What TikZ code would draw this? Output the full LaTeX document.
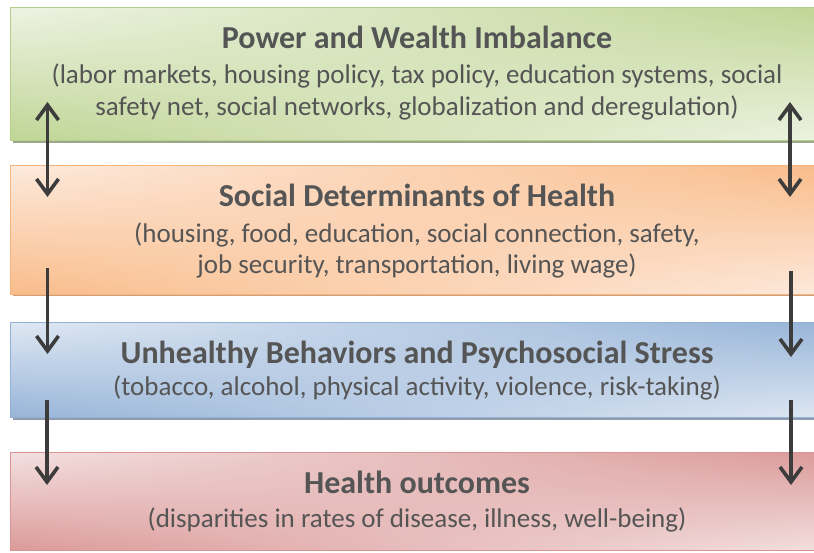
\documentclass[tikz,border=0pt]{standalone}
\usepackage{fontspec}
\setmainfont{Carlito}
\usetikzlibrary{arrows.meta,shadings}

% box palettes: light / dark / border / shadow
\definecolor{gLight}{HTML}{EDF3E2}
\definecolor{gDark}{HTML}{C0D596}
\definecolor{gLine}{HTML}{B5CE8A}
\definecolor{gShadow}{HTML}{9CA88A}
\definecolor{oLight}{HTML}{FDEADD}
\definecolor{oDark}{HTML}{F9BC8A}
\definecolor{oLine}{HTML}{F6B47E}
\definecolor{oShadow}{HTML}{CFA07C}
\definecolor{bLight}{HTML}{DFE8F3}
\definecolor{bDark}{HTML}{97B4D8}
\definecolor{bLine}{HTML}{93B0D5}
\definecolor{bShadow}{HTML}{8E9CAE}
\definecolor{rLight}{HTML}{F3E0E0}
\definecolor{rDark}{HTML}{DB9A99}
\definecolor{rLine}{HTML}{D99594}
\definecolor{rShadow}{HTML}{B09090}
\definecolor{txt}{HTML}{555555}
\definecolor{arr}{HTML}{3C3C3C}

\tikzset{
  band/.style={rectangle, inner sep=0pt, anchor=north west,
    minimum width=816pt, line width=1.2pt},
  greenband/.style={band, draw=gLine, upper left=gLight, lower right=gLight,
    upper right=gDark, lower left=gDark},
  orangeband/.style={band, draw=oLine, upper left=oLight, lower right=oLight,
    upper right=oDark, lower left=oDark},
  blueband/.style={band, draw=bLine, upper left=bLight, lower right=bLight,
    upper right=bDark, lower left=bDark},
  redband/.style={band, draw=rLine, upper left=rLight, lower right=rLight,
    upper right=rDark, lower left=rDark},
  title/.style={anchor=base, text=txt, inner sep=0pt,
    font=\fontsize{32}{36}\selectfont\bfseries},
  detail/.style={anchor=base, text=txt, inner sep=0pt,
    font=\fontsize{27}{32}\selectfont},
  barb/.tip={Straight Barb[length=15pt,width=22pt,line width=3.6pt]},
  flow/.style={draw=arr, line width=3.8pt, -barb},
  biflow/.style={draw=arr, line width=3.8pt, barb-barb},
}

\begin{document}
\begin{tikzpicture}[x=1pt, y=-1pt]
\useasboundingbox (0,0) rectangle (814,552);
\clip (0,0) rectangle (814,552);

% shadows under the bands
\fill[gShadow] (13,10) rectangle (829,143);
\fill[oShadow] (13,168) rectangle (829,296);
\fill[bShadow] (13,325) rectangle (829,420);

% the four bands
\node[greenband, minimum height=133pt] (power) at (10,7) {};
\node[orangeband, minimum height=129pt] (sdoh) at (10,165) {};
\node[blueband, minimum height=95pt] (behav) at (10,322) {};
\node[redband, minimum height=98pt] (outcome) at (10,452) {};

% texts
\node[title]  (powerT)  at (417,48)  {Power and Wealth Imbalance};
\node[detail] (powerA)  at (417,83)  {(labor markets, housing policy, tax policy, education systems, social};
\node[detail] (powerB)  at (417,115) {safety net, social networks, globalization and deregulation)};

\node[title]  (sdohT)   at (417,206) {Social Determinants of Health};
\node[detail] (sdohA)   at (417,242) {(housing, food, education, social connection, safety,};
\node[detail] (sdohB)   at (417,273) {job security, transportation, living wage)};

\node[title]  (behavT)  at (417,363) {Unhealthy Behaviors and Psychosocial Stress};
\node[detail] (behavA)  at (417,395) {(tobacco, alcohol, physical activity, violence, risk-taking)};

\node[title]  (outT)    at (417,493) {Health outcomes};
\node[detail] (outA)    at (417,527) {(disparities in rates of disease, illness, well-being)};

% arrow ends
\coordinate (l1a) at (47.5,102); \coordinate (l1b) at (47.5,197);
\coordinate (r1a) at (790,102);  \coordinate (r1b) at (790,197);
\coordinate (l2a) at (47.5,268); \coordinate (l2b) at (47.5,354);
\coordinate (r2a) at (791,271);  \coordinate (r2b) at (791,357);
\coordinate (l3a) at (47,400);   \coordinate (l3b) at (47,485);
\coordinate (r3a) at (791,400);  \coordinate (r3b) at (791,485);

\draw[biflow] (l1a) -- (l1b);
\draw[biflow] (r1a) -- (r1b);
\draw[flow] (l2a) -- (l2b);
\draw[flow] (r2a) -- (r2b);
\draw[flow] (l3a) -- (l3b);
\draw[flow] (r3a) -- (r3b);
\end{tikzpicture}
\end{document}
